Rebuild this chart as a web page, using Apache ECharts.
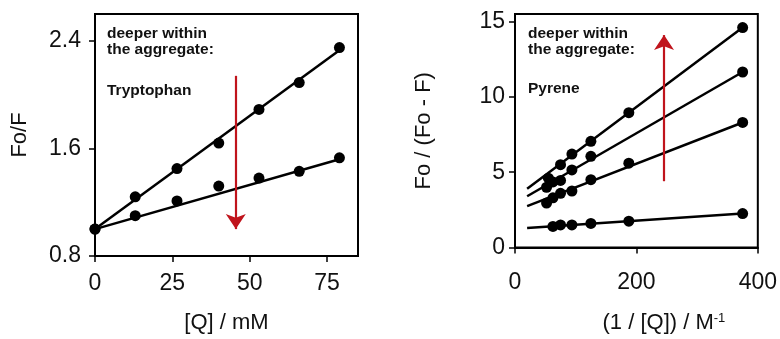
<!DOCTYPE html>
<html>
<head>
<meta charset="utf-8">
<script src="https://cdn.jsdelivr.net/npm/echarts@6/dist/echarts.min.js"></script>
<style>
  html, body { margin: 0; padding: 0; background: #fff; }
  #chart { width: 780px; height: 339px; }
</style>
</head>
<body>
<div id="chart"></div>
<script>
// left panel: Tryptophan, Fo/F vs [Q]
const trpX = [0, 13, 26.5, 40, 53, 66, 79];
const trpUpper = [1.0, 1.24, 1.45, 1.64, 1.89, 2.09, 2.35];
const trpLower = [1.0, 1.1, 1.21, 1.32, 1.38, 1.43, 1.53];
const trpFitUpper = [[0, 1.0], [79, 2.33]];
const trpFitLower = [[0, 1.0], [79, 1.52]];
const trpArrow = [[45.5, 2.14], [45.5, 1.0]];
const leftXTicks = [0, 25, 50, 75];
const leftYTicks = [0.8, 1.6, 2.4];

// right panel: Pyrene, Fo/(Fo-F) vs 1/[Q]
const pyrA = [[55, 4.6], [75, 5.5], [93.75, 6.2], [125, 7.05], [187.5, 8.95], [375, 14.6]];
const pyrB = [[52, 4.0], [62.5, 4.35], [75, 4.45], [93.75, 5.15], [125, 6.05], [375, 11.65]];
const pyrC = [[52, 2.95], [62.5, 3.3], [75, 3.6], [93.75, 3.75], [125, 4.5], [187.5, 5.6], [375, 8.3]];
const pyrD = [[62.5, 1.4], [75, 1.5], [93.75, 1.5], [125, 1.6], [187.5, 1.75], [375, 2.25]];
const pyrFitA = [[20, 3.9], [375, 14.6]];
const pyrFitB = [[20, 3.4], [375, 11.65]];
const pyrFitC = [[20, 2.75], [375, 8.3]];
const pyrFitD = [[20, 1.3], [375, 2.25]];
const pyrArrow = [[245.5, 4.4], [245.5, 14.1]];
const rightXTicks = [0, 200, 400];
const rightYTicks = [0, 5, 10, 15];

const FONT = "Liberation Sans, Arial, Helvetica, sans-serif";
const RED = "#c0141c";

const chart = echarts.init(document.getElementById("chart"));

const valueAxis = (gridIndex, min, max, ticks, extra) => Object.assign({
  type: "value",
  gridIndex,
  min,
  max,
  splitLine: { show: false },
  axisLine: { show: true, lineStyle: { color: "#000", width: 2 } },
  axisTick: { show: true, customValues: ticks, length: 6, lineStyle: { color: "#000", width: 1.5 } },
  axisLabel: { customValues: ticks, color: "#111", fontSize: 23, fontFamily: FONT },
  nameLocation: "middle",
  nameTextStyle: { color: "#111", fontSize: 22, fontFamily: FONT },
}, extra);

const scatter = (xi, yi, data) => ({
  type: "scatter",
  xAxisIndex: xi,
  yAxisIndex: yi,
  data,
  symbolSize: 11,
  itemStyle: { color: "#000", opacity: 1 },
  z: 5,
});

const fit = (xi, yi, data) => ({
  type: "line",
  xAxisIndex: xi,
  yAxisIndex: yi,
  data,
  showSymbol: false,
  lineStyle: { color: "#000", width: 2.5 },
  z: 4,
});

const arrow = (xi, yi, pts) => ({
  type: "line",
  xAxisIndex: xi,
  yAxisIndex: yi,
  data: [],
  markLine: {
    silent: true,
    symbol: ["none", "arrow"],
    symbolSize: 15,
    label: { show: false },
    lineStyle: { color: RED, width: 2.2, type: "solid" },
    data: [[{ coord: pts[0] }, { coord: pts[1] }]],
  },
  z: 6,
});

const note = (left, top, lines) => ({
  type: "text",
  left,
  top,
  style: {
    text: lines,
    fontSize: 15.5,
    fontWeight: "bold",
    fontFamily: FONT,
    fill: "#111",
    lineHeight: 16,
  },
  z: 10,
});

chart.setOption({
  animation: false,
  grid: [
    { left: 95, top: 14, width: 263, height: 242, show: true, borderColor: "#000", borderWidth: 2 },
    { left: 515, top: 14, width: 243, height: 243, show: true, borderColor: "#000", borderWidth: 2 },
  ],
  xAxis: [
    valueAxis(0, 0, 85, leftXTicks, {
      name: "[Q] / mM",
      nameGap: 56,
      axisLabel: { customValues: leftXTicks, color: "#111", fontSize: 23, fontFamily: FONT, margin: 16 },
    }),
    valueAxis(1, 0, 400, rightXTicks, {
      name: "(1 / [Q]) / M{sup|-1}",
      nameGap: 64,
      nameTextStyle: {
        color: "#111", fontSize: 22, fontFamily: FONT, padding: [0, 0, 0, 55],
        rich: { sup: { fontSize: 13, fontFamily: FONT, color: "#111", verticalAlign: "top", padding: [0, 0, 10, 0] } },
      },
      axisLabel: { customValues: rightXTicks, color: "#111", fontSize: 23, fontFamily: FONT, margin: 24 },
    }),
  ],
  yAxis: [
    valueAxis(0, 0.8, 2.6, leftYTicks, {
      name: "Fo/F",
      nameGap: 64,
      axisLabel: { customValues: leftYTicks, color: "#111", fontSize: 23, fontFamily: FONT, margin: 14, formatter: (v) => v.toFixed(1) },
    }),
    valueAxis(1, 0, 15.5, rightYTicks, {
      name: "Fo / (Fo - F)",
      nameGap: 80,
      axisLabel: { customValues: rightYTicks, color: "#111", fontSize: 23, fontFamily: FONT, margin: 10 },
    }),
  ],
  graphic: [
    note(107, 26, "deeper within\nthe aggregate:"),
    note(107, 83, "Tryptophan"),
    note(528, 26, "deeper within\nthe aggregate:"),
    note(528, 81, "Pyrene"),
  ],
  series: [
    fit(0, 0, trpFitUpper),
    fit(0, 0, trpFitLower),
    scatter(0, 0, trpX.map((x, i) => [x, trpUpper[i]])),
    scatter(0, 0, trpX.map((x, i) => [x, trpLower[i]])),
    arrow(0, 0, trpArrow),
    fit(1, 1, pyrFitA),
    fit(1, 1, pyrFitB),
    fit(1, 1, pyrFitC),
    fit(1, 1, pyrFitD),
    scatter(1, 1, pyrA),
    scatter(1, 1, pyrB),
    scatter(1, 1, pyrC),
    scatter(1, 1, pyrD),
    arrow(1, 1, pyrArrow),
  ],
});

window.addEventListener("resize", () => chart.resize());
</script>
</body>
</html>
